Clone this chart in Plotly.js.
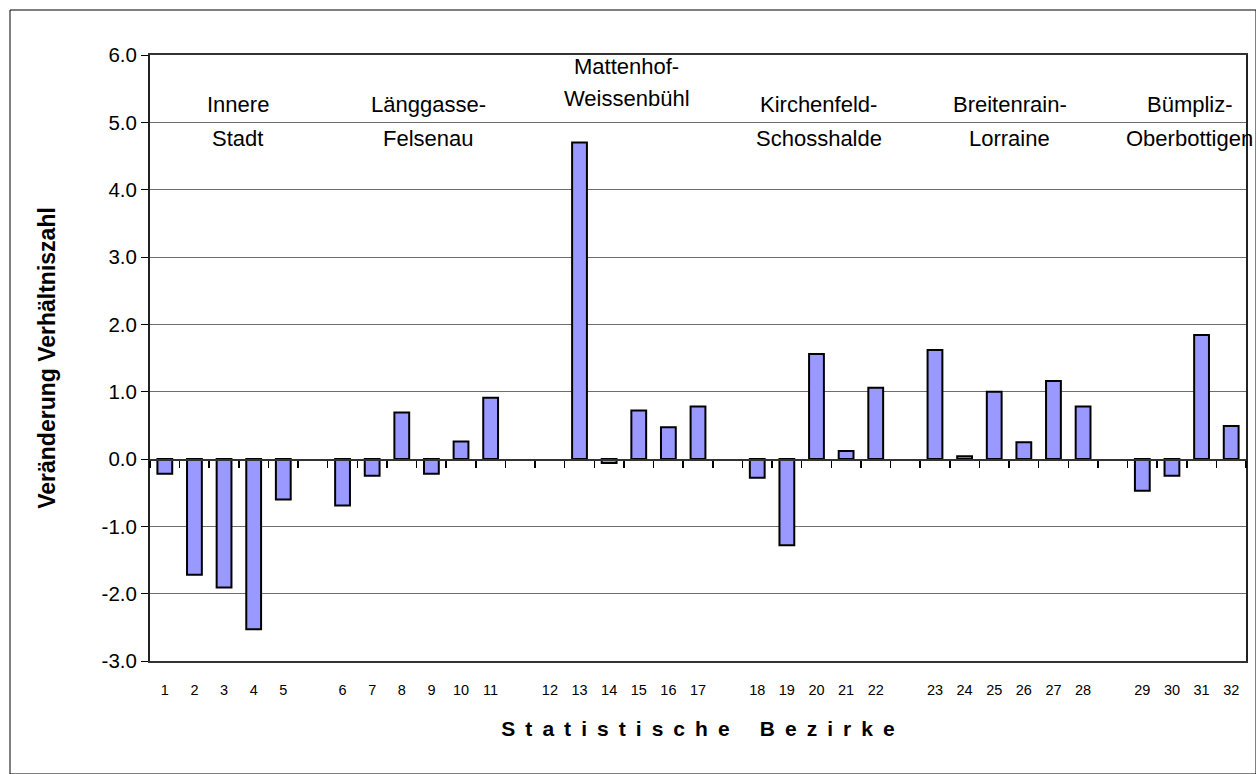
<!DOCTYPE html>
<html>
<head>
<meta charset="utf-8">
<script src="https://cdn.plot.ly/plotly-3.0.1.min.js"></script>
<style>html,body{margin:0;padding:0;background:#fff;}#chart{width:1256px;height:774px;}</style>
</head>
<body>
<div id="chart"></div>
<script>
const districts = ["1","2","3","4","5","6","7","8","9","10","11","12","13","14","15","16","17","18","19","20","21","22","23","24","25","26","27","28","29","30","31","32"];
const values = [-0.22,-1.72,-1.91,-2.53,-0.60,-0.69,-0.25,0.69,-0.22,0.26,0.91,null,4.70,-0.06,0.72,0.47,0.78,-0.28,-1.28,1.56,0.12,1.06,1.62,0.04,1.00,0.25,1.16,0.78,-0.47,-0.25,1.84,0.49];
const groupNames = [["Innere","Stadt"],["Länggasse-","Felsenau"],["Mattenhof-","Weissenbühl"],["Kirchenfeld-","Schosshalde"],["Breitenrain-","Lorraine"],["Bümpliz-","Oberbottigen"]];
const groupSizes = [5,6,6,5,6,4];
const yTickVals = [-3,-2,-1,0,1,2,3,4,5,6];
const yTickText = ["-3.0","-2.0","-1.0","0.0","1.0","2.0","3.0","4.0","5.0","6.0"];
const yTitle = "Veränderung Verhältniszahl";
const xTitleWords = ["Statistische","Bezirke"];

// letter-spaced axis title
const SP = "&#8201; ";
const xTitle = xTitleWords.map(w => w.split("").join(SP)).join(SP + SP + SP);

// build category slots with an empty slot between groups
const slots = [];
let k = 0;
groupSizes.forEach((n, g) => {
  for (let i = 0; i < n; i++) slots.push(districts[k++]);
  if (g < groupSizes.length - 1) slots.push("gap" + g);
});

// layout: label placement (slot index, y of first line, y of second line)
const labelPos = [[2.47,5.27,4.76],[8.89,5.27,4.76],[15.6,5.83,5.35],[22.07,5.27,4.76],[28.52,5.27,4.76],[34.6,5.27,4.76]];

const FONT = "Liberation Sans, Arial, sans-serif";

const traces = [
  {
    type: "bar", x: districts, y: values,
    marker: {color: "#9999FF", line: {color: "#000000", width: 2}},
    hoverinfo: "x+y", showlegend: false
  },
  {
    type: "scatter", x: districts, y: values, xaxis: "x2", mode: "none",
    hoverinfo: "skip", showlegend: false
  }
];

const annotations = [];
groupNames.forEach((lines, i) => {
  lines.forEach((t, j) => {
    annotations.push({
      text: t, x: labelPos[i][0], y: labelPos[i][1 + j], xref: "x", yref: "y",
      showarrow: false, xanchor: "center", yanchor: "middle",
      font: {family: FONT, size: 22, color: "#000"}
    });
  });
});

const layout = {
  width: 1256, height: 774,
  margin: {l: 150, r: 10, t: 55, b: 113},
  paper_bgcolor: "#ffffff", plot_bgcolor: "#ffffff",
  font: {family: FONT, color: "#000"},
  bargap: 0.5,
  xaxis: {
    type: "category", categoryorder: "array", categoryarray: slots,
    range: [-0.5, slots.length - 0.5],
    tickmode: "array", tickvals: districts, ticktext: districts,
    ticks: "", ticklabelstandoff: 15,
    tickfont: {family: FONT, size: 14.5, color: "#000"},
    showline: true, linecolor: "#333", linewidth: 2, mirror: true,
    showgrid: false, zeroline: false,
    title: {text: xTitle, font: {family: FONT, size: 21, color: "#000", weight: "bold"}, standoff: 24}
  },
  xaxis2: {
    type: "category", categoryorder: "array", categoryarray: slots,
    range: [-0.5, slots.length - 0.5],
    overlaying: "x", anchor: "free", position: 3/9,
    showticklabels: false, ticks: "outside", ticklen: 7, tickwidth: 1.5, tickcolor: "#000",
    tickson: "boundaries", tickmode: "linear", tick0: 0, dtick: 1,
    showline: true, linecolor: "#333", linewidth: 1.5,
    showgrid: false, zeroline: false
  },
  yaxis: {
    range: [-3, 6], tickmode: "array", tickvals: yTickVals, ticktext: yTickText,
    ticks: "outside", ticklen: 7, tickcolor: "#000", tickwidth: 1,
    tickfont: {family: FONT, size: 20.5, color: "#000"},
    showline: true, linecolor: "#222", linewidth: 2, mirror: true,
    showgrid: true, gridcolor: "#6e6e6e", gridwidth: 1, zeroline: false,
    title: {text: yTitle, font: {family: FONT, size: 23, color: "#000", weight: "bold"}, standoff: 40}
  },
  annotations: annotations,
  shapes: [{
    type: "rect", xref: "paper", yref: "paper",
    x0: -140/1096, x1: 1106/1096, y0: -113/606, y1: 651/606,
    line: {color: "#000", width: 1}, fillcolor: "rgba(0,0,0,0)", layer: "below"
  }]
};

Plotly.newPlot("chart", traces, layout, {displayModeBar: false, staticPlot: true});
</script>
</body>
</html>
